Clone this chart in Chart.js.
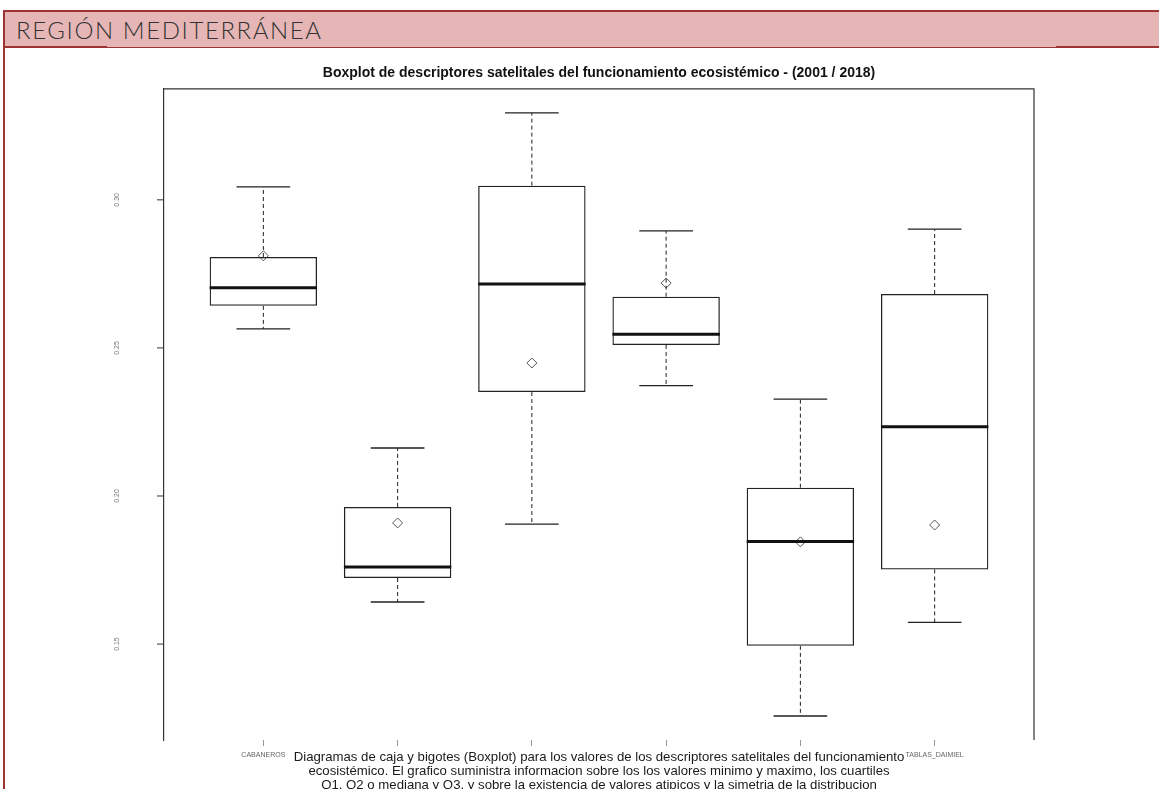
<!DOCTYPE html>
<html>
<head>
<meta charset="utf-8">
<script src="https://cdn.jsdelivr.net/npm/chart.js@4.4.1/dist/chart.umd.min.js"></script>
<style>
  html, body { margin: 0; padding: 0; background: #fff; overflow: hidden; }
  #wrap { position: relative; width: 1159px; height: 789px; }
  #chart { position: absolute; left: 0; top: 0; }
  #band {
    position: absolute; left: 3px; top: 10px; right: 0; height: 35px;
    background: #e6b6b6; border-top: 2px solid #9c3434; border-bottom: 1px solid #9c3434;
    font-family: Lato, sans-serif; font-weight: 300; font-size: 24px; color: #333;
    line-height: 36px; padding-left: 13px; letter-spacing: 1.6px; box-sizing: content-box;
  }
  .thick { position: absolute; top: 46px; height: 2px; background: #9c3434; }
  #leftline { position: absolute; left: 3px; top: 10px; width: 2px; bottom: 0; background: #9c3434; }
  #caption {
    position: absolute; left: 164px; width: 870px; top: 750px; text-align: center;
    font-family: "Liberation Sans", Arial, sans-serif; font-size: 13.2px; line-height: 14px; color: #1a1a1a;
  }
</style>
</head>
<body>
<div id="wrap">
  <canvas id="chart" width="1159" height="789"></canvas>
  <div id="band">REGIÓN MEDITERRÁNEA</div>
  <div class="thick" style="left:3px;width:104px"></div>
  <div class="thick" style="left:1056px;width:103px"></div>
  <div id="leftline"></div>
  <div id="caption">
    Diagramas de caja y bigotes (Boxplot) para los valores de los descriptores satelitales del funcionamiento<br>
    ecosistémico. El grafico suministra informacion sobre los los valores minimo y maximo, los cuartiles<br>
    Q1, Q2 o mediana y Q3, y sobre la existencia de valores atipicos y la simetria de la distribucion
  </div>
</div>
<script>
// parques de la region mediterranea
const categories = ['CABANEROS', 'DONANA', 'GUADARRAMA', 'MONFRAGUE', 'SIERRA_NEVADA', 'TABLAS_DAIMIEL'];
const whiskerLow  = [0.2564, 0.1642, 0.1905, 0.2373, 0.1257, 0.1573];
const q1          = [0.2642, 0.1723, 0.2351, 0.2510, 0.1494, 0.1752];
const median      = [0.2703, 0.1760, 0.2716, 0.2546, 0.1846, 0.2234];
const q3          = [0.2807, 0.1963, 0.3048, 0.2673, 0.2028, 0.2682];
const whiskerHigh = [0.3044, 0.2162, 0.3294, 0.2895, 0.2327, 0.2901];
const means       = [0.2811, 0.1909, 0.2449, 0.2719, 0.1845, 0.1902];
const yTicks = [0.15, 0.20, 0.25, 0.30];
const shownLabels = ['CABANEROS', 'TABLAS_DAIMIEL'];

// whiskers, staples, medians, frame and y tick marks
const boxExtras = {
  id: 'boxExtras',
  afterDatasetsDraw(chart) {
    const {ctx, scales: {x, y}, chartArea} = chart;
    const half = x.getPixelForValue(1.4) - x.getPixelForValue(1);
    const staple = x.getPixelForValue(1.2) - x.getPixelForValue(1);
    ctx.save();
    ctx.strokeStyle = '#222';
    categories.forEach((c, i) => {
      const px = x.getPixelForValue(i + 1);
      // dashed whiskers
      ctx.lineWidth = 1;
      ctx.setLineDash([4, 3]);
      ctx.beginPath();
      ctx.moveTo(px, y.getPixelForValue(q3[i]));
      ctx.lineTo(px, y.getPixelForValue(whiskerHigh[i]));
      ctx.moveTo(px, y.getPixelForValue(q1[i]));
      ctx.lineTo(px, y.getPixelForValue(whiskerLow[i]));
      ctx.stroke();
      ctx.setLineDash([]);
      // staples
      ctx.lineWidth = 1.3;
      ctx.beginPath();
      [whiskerHigh[i], whiskerLow[i]].forEach(v => {
        const py = y.getPixelForValue(v);
        ctx.moveTo(px - staple, py);
        ctx.lineTo(px + staple, py);
      });
      ctx.stroke();
      // median
      ctx.lineWidth = 3;
      ctx.strokeStyle = '#111';
      ctx.beginPath();
      const pm = y.getPixelForValue(median[i]);
      ctx.moveTo(px - half, pm);
      ctx.lineTo(px + half, pm);
      ctx.stroke();
      ctx.strokeStyle = '#222';
    });
    // frame: top and right sides
    ctx.lineWidth = 1.2;
    ctx.strokeStyle = '#333';
    ctx.beginPath();
    ctx.moveTo(chartArea.left, chartArea.top);
    ctx.lineTo(chartArea.right, chartArea.top);
    ctx.lineTo(chartArea.right, chartArea.bottom);
    ctx.stroke();
    // y tick marks
    ctx.lineWidth = 1;
    ctx.beginPath();
    yTicks.forEach(v => {
      const py = y.getPixelForValue(v);
      ctx.moveTo(chartArea.left - 7, py);
      ctx.lineTo(chartArea.left, py);
    });
    ctx.stroke();
    ctx.restore();
  }
};

new Chart(document.getElementById('chart'), {
  type: 'bar',
  data: {
    datasets: [{
      label: 'caja',
      data: categories.map((c, i) => ({x: i + 1, y: [q1[i], q3[i]]})),
      backgroundColor: 'rgba(255,255,255,0)',
      borderColor: '#222',
      borderWidth: 1.3,
      borderSkipped: false,
      barPercentage: 0.8,
      categoryPercentage: 1
    }, {
      type: 'scatter',
      label: 'media',
      data: categories.map((c, i) => ({x: i + 1, y: means[i]})),
      pointStyle: 'rectRot',
      pointRadius: 5,
      backgroundColor: '#fff',
      borderColor: '#555',
      borderWidth: 1
    }]
  },
  options: {
    responsive: false,
    animation: false,
    layout: { padding: { top: 55, right: 125, left: 0, bottom: 0 } },
    plugins: {
      legend: { display: false },
      tooltip: { enabled: false },
      title: {
        display: true,
        fullSize: false,
        text: 'Boxplot de descriptores satelitales del funcionamiento ecosistémico - (2001 / 2018)',
        color: '#111',
        font: { family: 'Liberation Sans', size: 14, weight: 'bold' },
        padding: { top: 10, bottom: 7 }
      }
    },
    scales: {
      x: {
        type: 'linear',
        offset: false,
        min: 0.26,
        max: 6.74,
        afterBuildTicks: s => { s.ticks = categories.map((c, i) => ({value: i + 1})); },
        afterFit: s => { s.height = 49; },
        grid: { offset: false, drawOnChartArea: false, tickLength: 6, color: '#999' },
        border: { display: false },
        ticks: {
          padding: 5,
          color: '#666',
          font: { family: 'Liberation Sans', size: 7 },
          maxRotation: 0,
          autoSkip: false,
          callback: v => {
            const name = categories[v - 1];
            return shownLabels.includes(name) ? name : '';
          }
        }
      },
      y: {
        min: 0.1176,
        max: 0.3375,
        afterBuildTicks: s => { s.ticks = yTicks.map(v => ({value: v})); },
        afterFit: s => { s.width = 164; },
        grid: { drawOnChartArea: false, tickLength: 37, tickColor: 'rgba(0,0,0,0)' },
        border: { display: true, color: '#333', width: 1.2 },
        ticks: {
          minRotation: 90,
          maxRotation: 90,
          crossAlign: 'center',
          color: '#777',
          font: { family: 'Liberation Sans', size: 7 },
          callback: v => v.toFixed(2)
        }
      }
    }
  },
  plugins: [boxExtras]
});
</script>
</body>
</html>
